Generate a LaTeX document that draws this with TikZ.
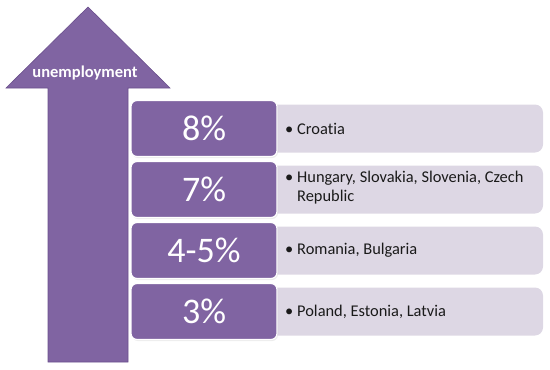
\documentclass[tikz,border=0pt]{standalone}
\usepackage{fontspec}
\setmainfont{Carlito}[Ligatures={NoCommon}]
\usetikzlibrary{shadows}
\definecolor{purp}{HTML}{8064A2}
\definecolor{purpedge}{HTML}{6A4F8C}
\definecolor{lav}{HTML}{DDD7E4}
\definecolor{txt}{HTML}{1A1A1A}
\begin{document}
\begin{tikzpicture}[x=1pt,y=-1pt,
  pct/.style={draw=white, line width=1.2pt, fill=purp, rounded corners=6pt,
    minimum width=146pt, minimum height=56pt, text=white,
    font=\fontsize{36}{40}\selectfont, inner sep=0pt,
    drop shadow={opacity=0.15, shadow xshift=1pt, shadow yshift=-1.5pt}},
  info/.style={fill=lav, rounded corners=8pt, minimum width=273pt,
    minimum height=48pt, inner sep=0pt},
  lbl/.style={anchor=west, text=txt, font=\fontsize{16.4}{19}\selectfont,
    inner sep=0pt, align=left},
  arrowshape/.style={fill=purp, draw=purpedge, line width=0.6pt}]
\useasboundingbox (0,0) rectangle (550,370);
% arrow
\draw[arrowshape] (88,7) -- (170,88) -- (128,88) -- (128,362) -- (48,362)
  -- (48,88) -- (6,88) -- cycle;
\node[text=white, font=\bfseries\fontsize{16.5}{18}\selectfont] (unemp) at (85,73) {unemployment};
% light boxes
\node[info] (i1) at (406.5,128.5) {};
\node[info] (i2) at (406.5,189.5) {};
\node[info] (i3) at (406.5,250.5) {};
\node[info] (i4) at (406.5,311.5) {};
% purple boxes
\node[pct] (p1) at (204,128.5) {8\%};
\node[pct] (p2) at (204,189.5) {7\%};
\node[pct] (p3) at (204,250.5) {4-5\%};
\node[pct] (p4) at (204,311.5) {3\%};
% texts
\node[lbl] (t1) at (285,128.5) {\makebox[12pt][l]{•}Croatia};
\node[lbl] (t2) at (285,188) {\begin{tabular}{@{}l@{}l@{}}\makebox[12pt][l]{•}&Hungary, Slovakia, Slovenia, Czech\\ &Republic\end{tabular}};
\node[lbl] (t3) at (285,250.5) {\makebox[12pt][l]{•}Romania, Bulgaria};
\node[lbl] (t4) at (285,311.5) {\makebox[12pt][l]{•}Poland, Estonia, Latvia};
\end{tikzpicture}
\end{document}
